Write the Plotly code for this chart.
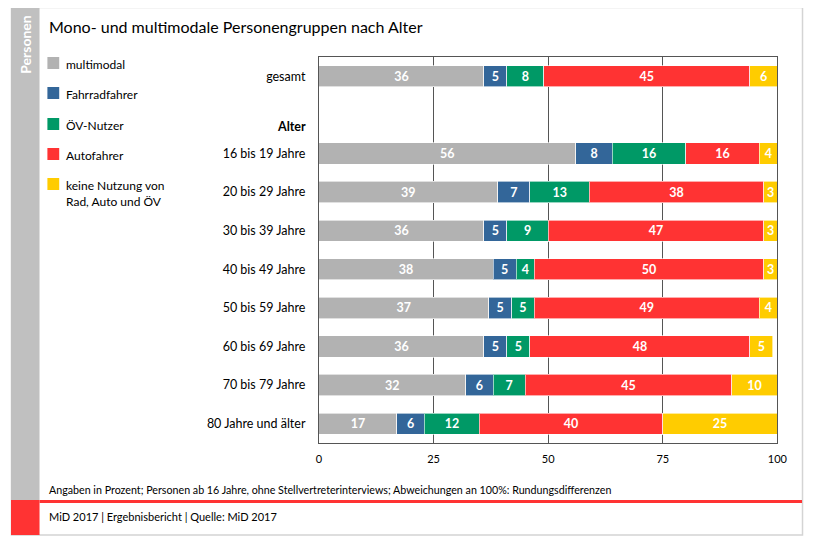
import plotly.graph_objects as go

# page body has an 8px margin; figure covers window pixels 8..813 x 8..538
OFF = 8
W, H = 805, 530

categories = ["gesamt", "16 bis 19 Jahre", "20 bis 29 Jahre", "30 bis 39 Jahre", "40 bis 49 Jahre",
              "50 bis 59 Jahre", "60 bis 69 Jahre", "70 bis 79 Jahre", "80 Jahre und älter"]
positions = [0, 2, 3, 4, 5, 6, 7, 8, 9]

series_names = ["multimodal", "Fahrradfahrer", "ÖV-Nutzer", "Autofahrer",
                "keine Nutzung von<br>Rad, Auto und ÖV"]
series_colors = ["#b2b2b2", "#336699", "#009966", "#ff3333", "#ffcc00"]

multimodal = [36, 56, 39, 36, 38, 37, 36, 32, 17]
fahrrad = [5, 8, 7, 5, 5, 5, 5, 6, 6]
oev = [8, 16, 13, 9, 4, 5, 5, 7, 12]
auto = [45, 16, 38, 47, 50, 49, 48, 45, 40]
keine = [6, 4, 3, 3, 3, 4, 5, 10, 25]
series_values = [multimodal, fahrrad, oev, auto, keine]

x_ticks = [0, 25, 50, 75, 100]

FONT = "Lato"


def px(x):
    return (x - OFF) / W


def py(y):
    return 1 - (y - OFF) / H


fig = go.Figure()
for i, (name, color, vals) in enumerate(zip(series_names, series_colors, series_values)):
    fig.add_trace(go.Bar(
        y=positions, x=vals, name=name, orientation="h",
        marker=dict(color=color, line=dict(color="rgba(255,255,255,0.6)", width=1)),
        text=vals, texttemplate="%{x}", textposition="inside", insidetextanchor="middle",
        textfont=dict(color="white", size=12.5, family=FONT, weight="bold"),
        showlegend=False, hoverinfo="skip",
    ))

shapes = [
    # outer frame
    dict(type="rect", xref="paper", yref="paper", x0=px(8.5), x1=px(812.5), y0=py(535), y1=py(7.5),
         line=dict(color="#d4d4d4", width=1.5), fillcolor="rgba(0,0,0,0)", layer="below"),
    # left grey band
    dict(type="rect", xref="paper", yref="paper", x0=px(8), x1=px(37), y0=py(500), y1=py(7),
         line=dict(width=0), fillcolor="#c0c0c0", layer="below"),
    # left red band
    dict(type="rect", xref="paper", yref="paper", x0=px(8), x1=px(37), y0=py(535), y1=py(500),
         line=dict(width=0), fillcolor="#ff3333", layer="below"),
    # red separator
    dict(type="line", xref="paper", yref="paper", x0=px(37), x1=px(812), y0=py(501.5), y1=py(501.5),
         line=dict(color="#ff3333", width=3)),
]

annotations = [
    dict(text="Mono- und multimodale Personengruppen nach Alter", xref="paper", yref="paper",
         x=px(45), y=py(27), xanchor="left", yanchor="middle", showarrow=False,
         font=dict(family=FONT, size=16, color="#000000")),
    dict(text="<b>Personen</b>", xref="paper", yref="paper", x=px(22.5), y=py(13),
         xanchor="center", yanchor="top", textangle=-90, showarrow=False,
         font=dict(family=FONT, size=14, color="white")),
    dict(text="<b>Alter</b>", xref="paper", yref="y", x=px(310), y=1.3, showarrow=False,
         xanchor="right", yanchor="middle",
         font=dict(family=FONT, size=12.5, color="#000000")),
    dict(text="Angaben in Prozent; Personen ab 16 Jahre, ohne Stellvertreterinterviews; Abweichungen an 100%: Rundungsdifferenzen",
         xref="paper", yref="paper", x=px(45), y=py(489), xanchor="left", yanchor="middle",
         showarrow=False, font=dict(family=FONT, size=10.7, color="#000000")),
    dict(text="MiD 2017 | Ergebnisbericht | Quelle: MiD 2017",
         xref="paper", yref="paper", x=px(45), y=py(516), xanchor="left", yanchor="middle",
         showarrow=False, font=dict(family=FONT, size=11, color="#000000")),
]

# legend drawn as swatches + labels built from the series lists
legend_y = [63, 93, 124, 154, 184]
for name, color, ly in zip(series_names, series_colors, legend_y):
    shapes.append(dict(type="rect", xref="paper", yref="paper",
                       x0=px(45), x1=px(57), y0=py(ly + 6), y1=py(ly - 6),
                       line=dict(width=0), fillcolor=color))
    annotations.append(dict(text=name, xref="paper", yref="paper", x=px(62), y=py(ly - 8),
                            xanchor="left", yanchor="top", align="left", showarrow=False,
                            font=dict(family=FONT, size=12, color="#000000")))

fig.update_layout(
    width=W, height=H, barmode="stack", bargap=0.45,
    margin=dict(l=0, r=0, t=0, b=0),
    paper_bgcolor="white", plot_bgcolor="white",
    font=dict(family=FONT, color="#000000"),
    xaxis=dict(domain=[px(321), px(787)], range=[0, 100], tickvals=x_ticks,
               showgrid=True, gridcolor="#555555", gridwidth=1,
               showline=True, linecolor="#555555", linewidth=1, mirror=True,
               zeroline=False, ticks="", tickfont=dict(size=11, family=FONT), ticklabelstandoff=6),
    yaxis=dict(domain=[py(443), py(57)], range=[9.5, -0.5], tickvals=positions, ticktext=categories,
               showgrid=False, showline=True, linecolor="#555555", linewidth=1, mirror=True,
               zeroline=False, ticks="", tickfont=dict(size=12.5, family=FONT), ticklabelstandoff=10),
    showlegend=False,
    uniformtext=dict(mode="show", minsize=12.5),
    shapes=shapes, annotations=annotations,
)

fig.write_html("out.html")
